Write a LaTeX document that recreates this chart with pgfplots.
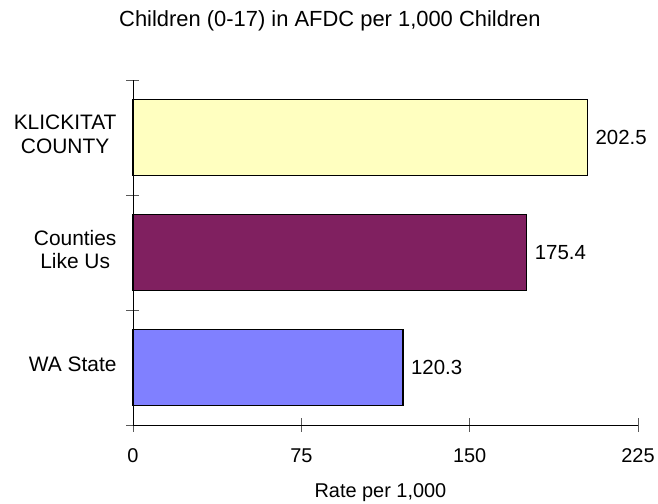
\documentclass[border=0pt]{standalone}
\usepackage{pgfplots}
\pgfplotsset{compat=1.18}
\usepackage{fontspec}
\setmainfont{Liberation Sans}
\definecolor{cYellow}{HTML}{FFFFC0}
\definecolor{cPurple}{HTML}{802060}
\definecolor{cBlue}{HTML}{8080FF}
\begin{document}
\begin{tikzpicture}
\path[use as bounding box] (-133bp,-79bp) rectangle (525bp,425bp);
\begin{axis}[
  at={(0,0)}, anchor=south west,
  scale only axis, width=505bp, height=345bp,
  xbar, bar width=76bp, bar shift=0pt,
  xmin=0, xmax=225, ymin=-0.5, ymax=2.5,
  axis x line=bottom, axis y line=left,
  axis line style={-, black, line width=0.8pt},
  xtick={0,75,150,225},
  ytick={-0.5,0.5,1.5,2.5}, yticklabels={},
  extra y ticks={0,1,2},
  extra y tick labels={WA State,{Counties\\Like Us},{KLICKITAT\\COUNTY}},
  extra y tick style={major tick length=0pt, yticklabel style={align=center, anchor=east, xshift=-13bp, yshift=3bp, font=\fontsize{21}{24}\selectfont}},
  tick align=center, major tick length=13bp,
  tick style={black!65, line width=0.8pt},
  /pgf/number format/assume math mode=true,
  xticklabel style={font=\fontsize{20}{24}\selectfont, yshift=-14bp},
  xlabel={Rate per 1,000},
  xlabel style={font=\fontsize{20}{24}\selectfont, at={(axis description cs:0.49,-0.195)}, anchor=center},
  title={Children (0-17) in AFDC per 1,000 Children},
  title style={font=\fontsize{22}{25}\selectfont, at={(axis description cs:0.39,1.153)}, anchor=center},
  nodes near coords,
  point meta=x,
  nodes near coords style={font=\fontsize{20.5}{24}\selectfont, /pgf/number format/fixed, /pgf/number format/precision=1, /pgf/number format/fixed zerofill, xshift=4bp},
  clip=false,
]
\addplot[fill=cBlue, draw=black, line width=1.6pt] coordinates {(120.3,0)};
\addplot[fill=cPurple, draw=black, line width=1.6pt] coordinates {(175.4,1)};
\addplot[fill=cYellow, draw=black, line width=1.6pt] coordinates {(202.5,2)};
\end{axis}
\end{tikzpicture}
\end{document}
